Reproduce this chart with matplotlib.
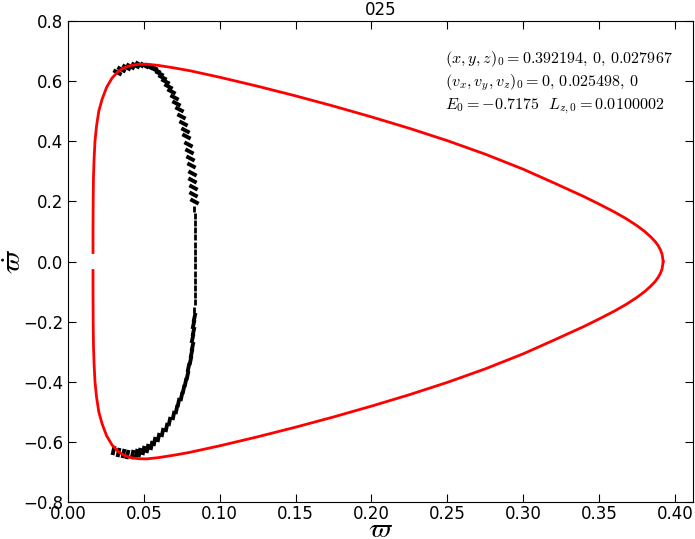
import matplotlib
matplotlib.use("Agg")
import matplotlib.pyplot as plt
from matplotlib.markers import MarkerStyle
from matplotlib.transforms import Affine2D

plt.rcParams['mathtext.fontset'] = 'cm'

# boundary curve (upper half, mirrored for the lower half)
red_x = [0.0165, 0.0165, 0.0166, 0.0168, 0.0172, 0.0178, 0.0188, 0.0203, 0.0225, 0.0255,
         0.029, 0.033, 0.037, 0.042, 0.047, 0.052, 0.060, 0.070, 0.080, 0.090,
         0.100, 0.125, 0.150, 0.175, 0.200, 0.225, 0.250, 0.275, 0.300, 0.320,
         0.330, 0.340, 0.350, 0.360, 0.368, 0.375, 0.380, 0.384, 0.387, 0.389,
         0.3905, 0.3915, 0.3922]
red_y = [0.030, 0.100, 0.200, 0.280, 0.340, 0.400, 0.450, 0.500, 0.540, 0.580,
         0.610, 0.632, 0.645, 0.653, 0.656, 0.6565, 0.652, 0.644, 0.635, 0.624,
         0.613, 0.583, 0.551, 0.517, 0.481, 0.443, 0.402, 0.357, 0.307, 0.262,
         0.239, 0.216, 0.191, 0.165, 0.142, 0.119, 0.100, 0.082, 0.066, 0.052,
         0.038, 0.024, 0.0]

# section points of the orbit
top_x = [0.032, 0.035, 0.038, 0.041, 0.044, 0.047, 0.050, 0.053, 0.056, 0.058, 0.060,
         0.062, 0.064, 0.066, 0.068, 0.0698, 0.0715, 0.073, 0.0745, 0.0758, 0.077,
         0.078, 0.079, 0.0798, 0.0805, 0.0811, 0.0816, 0.082, 0.0824, 0.0827, 0.083]
top_y = [0.630, 0.640, 0.647, 0.652, 0.655, 0.656, 0.655, 0.652, 0.646, 0.638, 0.628,
         0.615, 0.600, 0.584, 0.566, 0.547, 0.527, 0.506, 0.484, 0.462, 0.439,
         0.416, 0.392, 0.368, 0.344, 0.320, 0.296, 0.272, 0.248, 0.224, 0.200]
mid_x = [0.0832, 0.0834, 0.0835, 0.0836, 0.0837, 0.0838, 0.0838, 0.0838, 0.0838,
         0.0838, 0.0837, 0.0836, 0.0835, 0.0834, 0.0832]
mid_y = [0.176, 0.152, 0.128, 0.104, 0.080, 0.056, 0.032, 0.008, -0.016,
         -0.040, -0.064, -0.088, -0.112, -0.136, -0.160]
bot_x = [0.083, 0.0827, 0.0823, 0.0819, 0.0814, 0.0808, 0.0801, 0.0793, 0.0783, 0.0772,
         0.076, 0.0745, 0.0728, 0.071, 0.069, 0.0668, 0.0645, 0.062, 0.0595, 0.057,
         0.0545, 0.052, 0.0495, 0.047, 0.0445, 0.042, 0.039, 0.036, 0.033, 0.030]
bot_y = [-0.184, -0.208, -0.232, -0.256, -0.280, -0.304, -0.328, -0.352, -0.376, -0.400,
         -0.423, -0.446, -0.468, -0.490, -0.511, -0.531, -0.550, -0.568, -0.584, -0.598,
         -0.610, -0.620, -0.628, -0.634, -0.638, -0.640, -0.640, -0.638, -0.634, -0.628]

x0 = 0.392194
info = [r'$(x,y,z)_0=0.392194,\,0,\,0.027967$',
        r'$(v_x,v_y,v_z)_0=0,\,0.025498,\,0$',
        r'$E_0=-0.7175\ \ L_{z,0}=0.0100002$']

fig = plt.figure(figsize=(6.95, 5.39), dpi=100)
ax = fig.add_axes([0.0978, 0.0686, 0.8992, 0.8924])

def dash(angle):
    return MarkerStyle('_', transform=Affine2D().rotate_deg(angle))

ax.scatter(top_x, top_y, marker=dash(-28), s=45, linewidths=2.8, color='k', zorder=2)
ax.scatter(mid_x, mid_y, marker='|', s=15, linewidths=2, color='k', zorder=2)
ax.scatter(bot_x, bot_y, marker=dash(78), s=45, linewidths=2.8, color='k', zorder=2)

ax.plot(red_x, red_y, color='red', lw=2, solid_joinstyle='round', zorder=3)
ax.plot(red_x, [-v for v in red_y], color='red', lw=2, solid_joinstyle='round', zorder=3)

ax.set_xlim(0, 1.05 * x0)
ax.set_ylim(-0.8, 0.8)
ax.set_xticks([0.0, 0.05, 0.10, 0.15, 0.20, 0.25, 0.30, 0.35, 0.40])
ax.set_xticklabels(['0.00', '0.05', '0.10', '0.15', '0.20', '0.25', '0.30', '0.35', '0.40'])
ax.tick_params(direction='in', top=True, right=True, length=6, labelsize=12)
ax.tick_params(axis='x', pad=2)

ax.set_xlabel(r'$\varpi$', fontsize=20, va='center')
ax.xaxis.set_label_coords(0.5, -0.056)
ax.set_ylabel(r'$\dot{\varpi}$', fontsize=20, va='center')
ax.yaxis.set_label_coords(-0.088, 0.5)
ax.set_title('025', fontsize=12, pad=4)

for i, line in enumerate(info):
    ax.text(0.603, 0.913 - i * 0.048, line, transform=ax.transAxes, fontsize=11.6,
            va='baseline', ha='left')

fig.savefig('out.png', dpi=100)
